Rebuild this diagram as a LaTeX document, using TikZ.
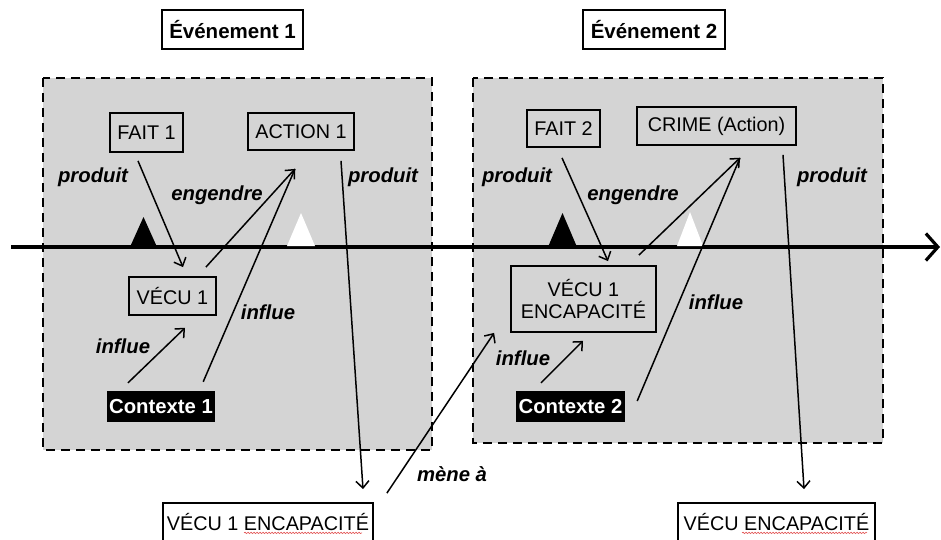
\documentclass[tikz,border=0pt]{standalone}
\usepackage{fontspec}
\setmainfont{Liberation Sans}
\usetikzlibrary{arrows.meta,decorations.pathmorphing}
\definecolor{evgray}{RGB}{212,212,212}
\definecolor{squig}{RGB}{225,80,80}
\begin{document}
\begin{tikzpicture}[x=1pt,y=-1pt,
  box/.style={draw,line width=1.8pt,inner sep=0pt,align=center,font=\fontsize{19.8}{22}\selectfont},
  evlabel/.style={draw,line width=1.8pt,inner sep=0pt,font=\bfseries\fontsize{20.5}{22}\selectfont},
  ctxbox/.style={fill=black,text=white,inner sep=0pt,font=\bfseries\fontsize{20.3}{22}\selectfont},
  lbl/.style={font=\bfseries\itshape\fontsize{20.3}{22}\selectfont,inner sep=0pt},
  area/.style={fill=evgray,draw,line width=1.8pt,dash pattern=on 9pt off 6pt},
  conn/.style={line width=1.5pt,-{Straight Barb[length=7pt,width=13pt,line width=1.5pt]}},
  plain/.style={line width=1.5pt}
]
\useasboundingbox (0,0) rectangle (941,540);
% event areas
\draw[area] (43,78) rectangle (432,450);
\draw[area] (473,78) rectangle (883,443);
% timeline
\draw[line width=3.5pt,-{Straight Barb[length=12pt,width=27pt,line width=3.2pt]}] (11,247) -- (940,247);
% triangles
\fill[black] (130,247) -- (143.5,217) -- (157,247) -- cycle;
\fill[white] (287,246) -- (301,213) -- (315,246) -- cycle;
\fill[black] (548,247) -- (562.5,213) -- (577,247) -- cycle;
\fill[white] (677,246) -- (690,212) -- (703,246) -- cycle;
% event labels
\node[evlabel,minimum width=141pt,minimum height=39pt] (ev1) at (232.5,29.5) {Événement 1};
\node[evlabel,minimum width=142pt,minimum height=39pt] (ev2) at (654,29.5) {Événement 2};
% nodes
\node[box,minimum width=73pt,minimum height=39pt] (fait1) at (146.5,132.5) {FAIT 1};
\node[box,minimum width=106pt,minimum height=37pt] (action1) at (301,131.5) {ACTION 1};
\node[box,minimum width=87pt,minimum height=38pt] (vecu1) at (172.5,296) {VÉCU 1};
\node[ctxbox,minimum width=108pt,minimum height=31pt] (ctx1) at (161,406.5) {Contexte 1};
\node[box,minimum width=73pt,minimum height=37pt] (fait2) at (563.5,128.5) {FAIT 2};
\node[box,minimum width=159pt,minimum height=38pt] (crime) at (716.5,126) {CRIME (Action)};
\node[box,minimum width=145pt,minimum height=66pt] (vecu2) at (583.5,299) {VÉCU 1\\ENCAPACITÉ};
\node[ctxbox,minimum width=109pt,minimum height=31pt] (ctx2) at (570.5,406.5) {Contexte 2};
\node[box,minimum width=210pt,minimum height=38pt] (bot1) at (268,522) {VÉCU 1 ENCAPACITÉ};
\node[box,minimum width=197pt,minimum height=38pt] (bot2) at (776.5,522) {VÉCU ENCAPACITÉ};
% spell-check underlines
\draw[squig,line width=0.6pt,decorate,decoration={snake,amplitude=0.7pt,segment length=3pt}]
  ([xshift=82pt,yshift=9pt]bot1.south west) -- ([xshift=200pt,yshift=9pt]bot1.south west);
\draw[squig,line width=0.6pt,decorate,decoration={snake,amplitude=0.7pt,segment length=3pt}]
  ([xshift=65pt,yshift=9pt]bot2.south west) -- ([xshift=190pt,yshift=9pt]bot2.south west);
% connectors, event 1
\draw[conn] ([xshift=-8.5pt,yshift=-8pt]fait1.south) -- ([xshift=10.5pt,yshift=9pt]vecu1.north);
\draw[conn] ([xshift=-11pt,yshift=9pt]vecu1.north east) -- ([xshift=-6pt,yshift=-18pt]action1.south);
\draw[plain] ([xshift=-12pt,yshift=9pt]ctx1.north east) -- ([xshift=-6pt,yshift=-18pt]action1.south);
\draw[conn] ([xshift=-33pt,yshift=8pt]ctx1.north) -- ([xshift=12.5pt,yshift=-12pt]vecu1.south);
\draw[conn] ([xshift=40pt,yshift=-10pt]action1.south) -- ([xshift=95pt,yshift=13pt]bot1.north);
% mene a
\draw[conn] ([xshift=13pt,yshift=9pt]bot1.north east) -- ([xshift=-16pt]vecu2.south west);
% connectors, event 2
\draw[conn] ([xshift=-1.5pt,yshift=-10pt]fait2.south) -- ([xshift=24.5pt,yshift=4pt]vecu2.north);
\draw[conn] ([xshift=-18pt,yshift=10pt]vecu2.north east) -- ([xshift=23.5pt,yshift=-12pt]crime.south);
\draw[plain] ([xshift=12pt,yshift=5.5pt]ctx2.east) -- ([xshift=23.5pt,yshift=-12pt]crime.south);
\draw[conn] ([xshift=-29.5pt,yshift=8pt]ctx2.north) -- ([xshift=-0.5pt,yshift=-8pt]vecu2.south);
\draw[conn] ([xshift=66.5pt,yshift=-9pt]crime.south) -- ([xshift=27.5pt,yshift=13pt]bot2.north);
% labels
\node[lbl] (p1) at (93,177) {produit};
\node[lbl] (e1) at (217,195) {engendre};
\node[lbl] (i1) at (268,312) {influe};
\node[lbl] (i2) at (123,346) {influe};
\node[lbl] (p2) at (383,177) {produit};
\node[lbl] (m1) at (452,474) {mène à};
\node[lbl] (p3) at (517,177) {produit};
\node[lbl] (e2) at (633,195) {engendre};
\node[lbl] (i3) at (716,302) {influe};
\node[lbl] (i4) at (523,358) {influe};
\node[lbl] (p4) at (832,177) {produit};
\end{tikzpicture}
\end{document}
